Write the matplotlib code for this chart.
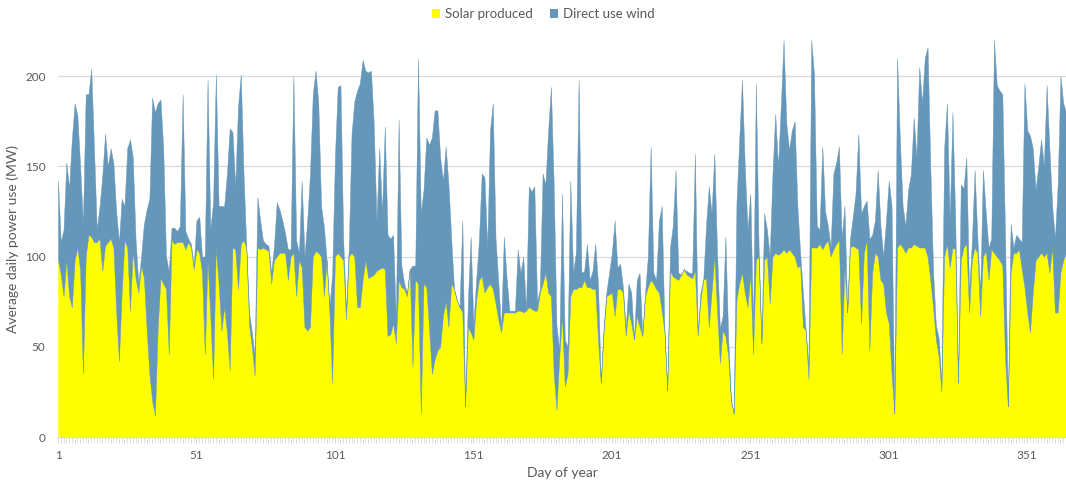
import matplotlib
matplotlib.use("Agg")
import matplotlib.pyplot as plt
from matplotlib.patches import Patch
import numpy as np

plt.rcParams['font.family'] = ['Lato', 'DejaVu Sans']

days = list(range(1, 366))

# upper edge of the stacked area (solar + direct use wind)
solar_plus_wind = [
    142,108,115,152,138,165,185,178,150,118,
    190,190,204,160,115,128,145,168,150,160,
    152,125,108,132,128,160,165,155,110,85,
    100,118,126,132,188,180,185,187,160,100,
    92,116,116,114,117,190,114,110,107,95,
    120,122,100,100,198,115,130,201,128,128,
    128,146,171,169,139,183,201,146,105,69,
    58,45,133,120,109,107,106,91,106,130,
    126,120,113,104,104,200,109,102,142,100,
    120,146,190,203,185,128,117,98,72,90,
    155,194,195,109,70,105,168,186,192,196,
    209,203,202,203,174,120,160,124,172,112,
    110,112,65,176,95,85,80,93,95,95,
    210,124,137,166,162,166,181,181,155,142,
    161,140,110,82,76,72,120,17,75,111,
    62,87,109,146,144,105,170,185,110,86,
    60,111,88,70,70,70,104,91,100,70,
    139,136,139,75,82,146,140,170,194,140,
    62,48,135,54,50,142,91,102,198,91,
    92,107,87,92,107,85,30,60,80,91,
    102,120,94,96,83,60,85,80,54,87,
    91,56,80,100,161,91,87,120,128,59,
    26,105,117,148,91,90,93,92,91,91,
    157,58,80,87,117,139,124,157,102,60,
    67,111,55,21,13,130,165,198,150,115,
    135,60,196,105,52,124,115,100,146,179,
    150,183,220,174,159,170,175,128,102,80,
    59,40,220,201,117,115,161,125,117,105,
    146,152,161,110,128,69,110,122,135,168,
    124,128,131,110,112,120,148,117,100,120,
    142,128,13,210,165,128,117,137,146,177,
    155,205,185,210,216,150,92,62,55,30,
    160,185,120,180,120,30,140,138,155,80,
    108,148,110,80,148,125,105,110,220,195,
    192,190,110,17,118,105,112,110,108,196,
    170,167,160,137,150,165,150,195,160,128,
    110,140,200,185,180,
]

solar = [
    98,90,78,98,78,72,98,105,92,35,
    100,112,111,108,108,110,92,106,108,110,
    105,70,42,80,109,105,70,103,88,80,
    95,88,60,35,20,12,60,88,85,82,
    46,109,107,108,108,108,104,108,105,93,
    104,102,91,46,98,67,32,105,85,59,
    72,58,37,105,104,82,107,109,105,62,
    50,34,105,104,105,104,103,85,98,100,
    102,102,102,87,100,102,78,98,94,61,
    59,61,100,103,102,100,78,98,69,30,
    100,102,100,98,65,100,102,100,72,72,
    87,98,88,89,90,92,93,94,93,56,
    57,63,52,87,83,82,78,93,39,87,
    85,13,85,83,60,35,43,48,50,67,
    75,61,85,82,76,72,69,17,61,58,
    54,76,87,89,80,83,85,82,74,65,
    58,69,69,69,69,69,70,70,69,70,
    72,71,70,70,80,85,91,80,78,35,
    15,44,67,28,35,78,82,82,83,83,
    87,83,83,82,82,54,30,58,78,79,
    80,67,82,82,80,56,70,63,54,67,
    61,56,78,83,87,85,82,80,70,58,
    26,92,89,88,87,90,93,90,89,88,
    92,56,76,87,88,61,80,100,70,41,
    59,56,45,20,13,76,85,91,80,72,
    90,46,98,100,52,98,100,74,100,102,
    101,102,104,102,104,102,100,94,95,61,
    59,32,105,105,105,107,104,107,109,100,
    104,107,109,46,94,69,105,106,105,104,
    63,102,109,48,91,102,100,87,85,69,
    63,35,13,105,107,105,102,105,105,107,
    106,105,105,105,100,87,72,54,45,25,
    100,107,94,105,104,30,98,105,107,69,
    98,105,102,67,100,103,87,104,102,100,
    98,95,43,17,91,102,102,104,93,83,
    69,58,80,98,100,102,100,102,91,105,
    69,69,91,98,102,
]

series_names = ["Solar produced", "Direct use wind"]
x_tick_labels = [1, 51, 101, 151, 201, 251, 301, 351]
y_ticks = [0, 50, 100, 150, 200]

YELLOW = "#FFFF00"
BLUE = "#6497B9"
TEXT = "#595959"
GRID = "#D9D9D9"

fig = plt.figure(figsize=(10.66, 4.90), dpi=100)
ax = fig.add_axes([58/1066, 1-437/490, 1-58/1066, (437-40)/490])

d = np.array(days)
s = np.array(solar)
t = np.array(solar_plus_wind)
ax.fill_between(d, 0, s, color=YELLOW, lw=0.3, edgecolor=YELLOW, zorder=2)
ax.fill_between(d, s, t, color=BLUE, lw=0.3, edgecolor=BLUE, zorder=2)

ax.set_xlim(1, 364.7)
ax.set_ylim(0, 220)
ax.set_yticks(y_ticks)
ax.set_xticks(x_tick_labels)
ax.set_xticks(days, minor=True)
ax.grid(axis='y', color=GRID, lw=0.9, zorder=0)
ax.set_axisbelow(True)
for side in ['left', 'right', 'top']:
    ax.spines[side].set_visible(False)
ax.spines['bottom'].set_color(GRID)
ax.spines['bottom'].set_linewidth(0.9)
ax.tick_params(axis='y', length=0, labelsize=8.5, labelcolor=TEXT, pad=9)
ax.tick_params(axis='x', which='major', length=4, color=GRID, labelsize=8.5,
               labelcolor=TEXT, pad=5)
ax.tick_params(axis='x', which='minor', length=4, color=GRID, width=0.6)

ax.set_xlabel("Day of year", fontsize=10, color=TEXT, labelpad=5)
ax.set_ylabel("Average daily power use (MW)", fontsize=10, color=TEXT, labelpad=4)

handles = [Patch(facecolor=YELLOW, edgecolor='none'), Patch(facecolor=BLUE, edgecolor='none')]
fig.legend(handles, series_names, loc='center', bbox_to_anchor=(543/1066, 1-14/490),
           ncol=2, frameon=False, fontsize=9.5, labelcolor=TEXT,
           handlelength=0.65, handleheight=0.65, handletextpad=0.35, columnspacing=1.3)

fig.savefig("out.png", dpi=100)
